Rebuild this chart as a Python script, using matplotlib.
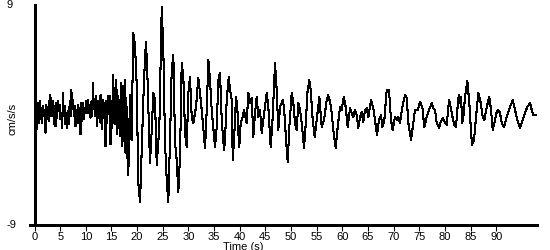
import matplotlib
matplotlib.use("Agg")
import matplotlib.pyplot as plt
import matplotlib.transforms as mtransforms

plt.rcParams['font.family'] = ['Liberation Sans', 'DejaVu Sans']

# Time (s) of each read point
time_s = [
    0.23, 0.39, 0.68, 0.84, 1.01, 1.17, 1.33, 1.49, 1.66, 1.82,
    1.98, 2.14, 2.31, 2.47, 2.63, 2.79, 2.96, 3.12, 3.28, 3.44,
    3.61, 3.77, 3.93, 4.09, 4.26, 4.42, 4.58, 4.74, 4.91, 5.07,
    5.23, 5.39, 5.56, 5.72, 5.88, 6.04, 6.21, 6.37, 6.53, 6.69,
    6.86, 7.02, 7.18, 7.34, 7.51, 7.67, 7.83, 7.99, 8.15, 8.31,
    8.48, 8.64, 8.80, 8.96, 9.13, 9.29, 9.45, 9.61, 9.78, 9.94,
    10.10, 10.26, 10.43, 10.59, 10.75, 10.91, 11.08, 11.24, 11.40, 11.56,
    11.73, 11.89, 12.05, 12.21, 12.38, 12.54, 12.70, 12.86, 13.03, 13.19,
    13.35, 13.51, 13.68, 13.84, 14.00, 14.16, 14.33, 14.49, 14.65, 14.81,
    14.98, 15.14, 15.30, 15.46, 15.63, 15.79, 15.95, 16.11, 16.28, 16.44,
    16.60, 16.76, 16.93, 17.09, 17.25, 17.41, 17.58, 17.74, 17.90, 18.06,
    18.28, 18.62, 18.91, 19.26, 19.59, 19.92, 20.23, 20.57, 20.90, 21.21,
    21.54, 21.73, 21.99, 22.51, 22.85, 23.16, 23.49, 23.82, 24.33, 24.80,
    25.11, 25.44, 25.77, 26.08, 26.41, 26.74, 27.06, 27.39, 27.72, 28.03,
    28.36, 28.69, 29.01, 29.34, 29.67, 29.98, 30.31, 30.64, 30.96, 31.48,
    31.93, 32.26, 32.59, 33.24, 33.57, 33.88, 34.21, 34.54, 35.19, 35.52,
    35.83, 36.16, 36.49, 36.94, 37.13, 37.47, 37.86, 38.11, 38.44, 38.64,
    38.89, 39.28, 39.53, 39.73, 39.92, 40.19, 40.58, 40.84, 41.23, 41.36,
    41.68, 42.01, 42.34, 42.65, 42.98, 43.31, 43.63, 43.96, 44.29, 44.60,
    44.93, 45.26, 45.58, 46.04, 46.43, 46.88, 47.21, 47.52, 47.86, 48.38,
    48.64, 49.03, 49.36, 49.67, 50.14, 50.45, 50.78, 51.11, 51.42, 51.75,
    52.09, 52.53, 52.92, 53.18, 53.57, 53.84, 54.23, 54.62, 55.01, 55.52,
    55.98, 56.43, 56.96, 57.23, 57.66, 57.93, 58.25, 58.71, 59.10, 59.55,
    59.88, 60.27, 60.66, 61.05, 61.50, 61.83, 62.14, 62.48, 62.81, 63.12,
    63.45, 63.78, 64.09, 64.42, 64.76, 65.07, 65.60, 66.04, 66.37, 66.76,
    67.15, 67.54, 67.80, 68.19, 68.65, 69.10, 69.49, 69.82, 70.27, 70.60,
    70.92, 71.25, 71.70, 72.22, 72.55, 72.87, 73.39, 73.72, 74.17, 74.70,
    75.15, 75.60, 75.98, 76.45, 76.90, 77.43, 77.74, 78.07, 78.40, 78.85,
    79.18, 79.57, 80.02, 80.35, 80.80, 81.13, 81.52, 81.83, 82.16, 82.42,
    82.69, 82.94, 83.14, 83.39, 83.59, 83.92, 84.37, 84.76, 85.03, 85.28,
    85.67, 86.06, 86.51, 86.98, 87.37, 87.68, 88.15, 88.65, 88.99, 89.32,
    89.77, 90.10, 90.41, 90.74, 91.07, 91.52, 92.05, 92.69, 93.22, 93.66,
    94.11, 94.64, 95.17, 95.61, 96.06, 96.59, 96.92, 97.23, 97.76,
]

# Acceleration (cm/s/s) read at each point
accel = [
    1.40, -1.18, 0.99, -0.64, 1.12, -0.37, 0.58, -0.64, 0.72, 0.04,
    0.45, -1.45, 0.86, -0.37, 0.04, -0.50, 1.67, -0.10, 1.40, -0.10,
    1.12, -0.77, 0.72, -0.91, 0.99, -0.23, 1.12, 0.45, 0.86, -0.37,
    0.18, -1.04, 1.81, -0.10, 0.72, -0.77, 0.18, -1.04, 0.31, -0.77,
    1.12, -0.10, 2.08, 0.45, 1.26, -0.10, 0.72, -0.91, 0.45, -0.64,
    0.86, -0.64, 0.58, -1.59, 0.99, -0.50, 0.99, -0.37, 0.58, 0.18,
    1.12, 0.18, 1.26, 0.18, 0.86, -0.23, 1.12, -0.10, 2.62, 0.45,
    0.99, -0.10, 1.53, -0.91, 1.12, -0.23, 1.53, -0.64, 1.67, -1.18,
    1.26, -0.10, 0.99, -2.54, 1.12, -0.64, 1.53, 0.04, 1.53, -2.40,
    1.12, -1.04, 3.30, -0.64, 2.21, -0.77, 2.89, -1.59, 1.53, -1.04,
    1.26, -1.73, 2.62, -2.54, 2.35, -2.13, 2.89, -3.08, 1.40, -2.95,
    -4.91, 1.64, -2.05, 6.71, 5.73, 2.45, -5.56, -7.12, -2.86, 1.23,
    4.75, 5.97, 3.44, -3.93, -1.23, 1.80, 1.23, -4.09, -0.98, 8.84,
    5.32, -2.29, -5.32, -7.12, -2.05, 3.68, 4.91, -2.29, -3.68, -6.30,
    -3.44, 4.26, 3.11, -1.47, -2.62, 1.80, 3.11, -0.16, -0.65, 0.65,
    3.03, 1.80, 0.41, -2.70, 0.41, 4.50, 2.86, 0.41, -2.62, -0.98,
    2.86, 3.44, -0.41, -2.86, -2.05, 1.23, 3.11, 2.05, 1.23, -3.68,
    -2.05, 1.47, 0.65, -1.47, -2.62, -0.65, -0.16, 0.41, -0.41, -0.65,
    1.80, 0.98, 1.39, -1.80, 0.16, 1.47, -0.16, 0.41, -1.47, -0.41,
    0.65, 1.80, 0.65, -2.62, -0.16, 4.26, 2.05, -1.23, 0.65, 1.23,
    0.65, -2.05, -3.85, -0.98, 1.80, 0.98, -0.65, -1.23, 0.98, 0.41,
    -0.65, -2.70, -0.41, 1.80, 2.86, 2.05, -0.41, -1.80, -0.41, 1.47,
    -0.98, -0.41, 1.23, 1.64, 0.98, 0.16, -1.23, -2.70, -0.98, 0.65,
    0.41, 1.47, 0.65, -0.98, 0.57, 0.16, -0.16, 0.41, 0.00, -1.06,
    -0.16, 0.25, -0.57, 0.41, 0.57, -0.16, 1.23, 0.57, -0.41, -1.64,
    -0.41, 0.00, -0.98, -0.41, 2.05, 2.05, -0.41, -1.23, -0.16, -0.41,
    -0.16, -0.65, 0.65, 1.64, 1.39, -0.65, -2.05, -0.98, 0.41, 0.41,
    1.06, 0.65, -0.98, -0.16, 0.41, 0.98, 0.57, 0.41, -0.65, -1.06,
    -0.57, -0.25, -0.57, -0.82, 1.23, 0.65, -0.25, -0.82, -0.98, 0.41,
    1.64, 0.98, 1.47, -0.65, -0.16, 1.47, 2.78, 0.98, -0.98, -2.45,
    -2.05, -0.16, 1.80, 0.98, -0.16, -0.41, 0.65, 1.47, 0.41, -1.23,
    -0.41, 0.25, 0.41, 0.16, -0.65, -0.98, -0.16, 0.65, 1.23, 0.41,
    -0.41, -1.06, -0.41, 0.16, 0.65, 0.98, 0.41, 0.00, 0.00,
]

x_ticks = list(range(0, 95, 5))
y_limits = [-9, 9]
x_label = "Time (s)"
y_label = "cm/s/s"

W, H = 550, 250
fig = plt.figure(figsize=(W / 100, H / 100), dpi=100)
ax = fig.add_axes([30 / W, 25 / H, (537 - 30) / W, (225 - 5) / H])

ax.plot(time_s, accel, color='black', lw=0.75, antialiased=False)

ax.set_xlim(-0.88, 97.95)
ax.set_ylim(*y_limits)

for s in ('top', 'right'):
    ax.spines[s].set_visible(False)
ax.spines['left'].set_position(('data', 0))
for s in ('left', 'bottom'):
    ax.spines[s].set_linewidth(0.8)
    ax.spines[s].set_antialiased(False)

ax.set_xticks(x_ticks)
ax.set_xticklabels([str(v) for v in x_ticks], fontsize=8)
ax.tick_params(axis='x', direction='out', length=4, width=0.8, pad=1)
ax.set_yticks([])

# y-range labels at far left
trans = mtransforms.blended_transform_factory(fig.transFigure, ax.transData)
for v in y_limits:
    ax.text(6.5 / W, v, str(v), transform=trans, ha='left', va='center', fontsize=8)

fig.text(12.5 / W, 1 - 119 / H, y_label, rotation=90, ha='center', va='center', fontsize=8)
fig.text(243 / W, 1 - 241.5 / H, x_label, ha='center', va='top', fontsize=8)

fig.savefig("out.png", dpi=100)
